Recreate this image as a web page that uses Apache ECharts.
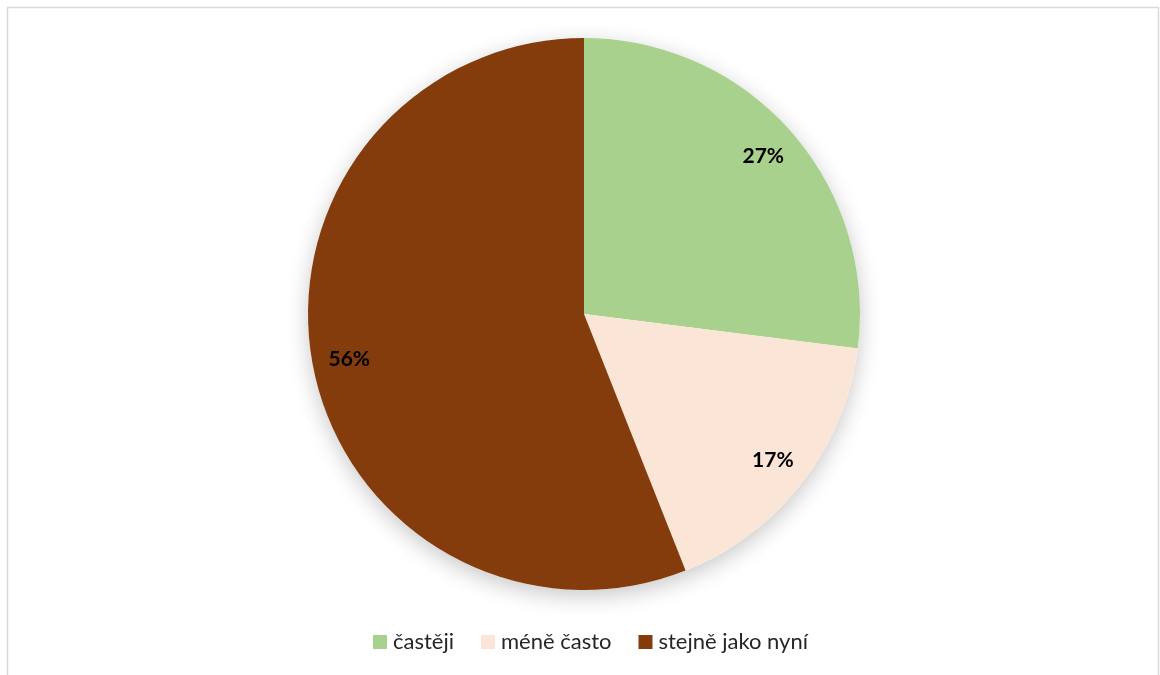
<!DOCTYPE html>
<html>
<head>
<meta charset="utf-8">
<script src="https://cdn.jsdelivr.net/npm/echarts@6/dist/echarts.min.js"></script>
<style>
html,body{margin:0;padding:0;background:#fff;}
#chart{width:1160px;height:675px;}
</style>
</head>
<body>
<div id="chart"></div>
<script>
const categories = ['častěji', 'méně často', 'stejně jako nyní'];
const values = [27, 17, 56];
const colors = ['#a9d18e', '#fbe5d6', '#843c0c'];

const chart = echarts.init(document.getElementById('chart'), null, {renderer: 'canvas'});
const data = categories.map((c, i) => ({name: c, value: values[i], itemStyle: {color: colors[i]}}));
const total = values.reduce((a, b) => a + b, 0);
const center = [584, 314];
const R = 276;

chart.setOption({
  animation: false,
  backgroundColor: '#fff',
  graphic: [{
    type: 'rect',
    shape: {x: 7.5, y: 7.5, width: 1151, height: 720},
    style: {fill: 'none', stroke: '#d9d9d9', lineWidth: 1.5},
    silent: true,
    z: 0
  }],
  legend: {
    bottom: 17,
    left: 368,
    itemWidth: 14,
    itemHeight: 14,
    itemGap: 27,
    icon: 'rect',
    textStyle: {fontFamily: 'Lato, "Open Sans", sans-serif', fontSize: 22, color: '#262626', padding: [0, 0, 0, 1]},
    data: categories
  },
  series: [
    {
      type: 'pie',
      silent: true,
      center: center,
      radius: R,
      startAngle: 90,
      label: {show: false},
      labelLine: {show: false},
      legendHoverLink: false,
      itemStyle: {color: '#fff', shadowBlur: 22, shadowOffsetY: 6, shadowColor: 'rgba(0,0,0,0.22)'},
      data: [{name: '_shadow', value: total}],
      z: 1
    },
    {
      type: 'pie',
      center: center,
      radius: R,
      startAngle: 90,
      clockwise: true,
      label: {show: false},
      labelLine: {show: false},
      itemStyle: {borderWidth: 0},
      data: data,
      z: 2
    },
    {
      type: 'pie',
      silent: true,
      center: center,
      radius: [196, R],
      startAngle: 90,
      clockwise: true,
      itemStyle: {color: 'rgba(0,0,0,0)', borderWidth: 0},
      label: {
        show: true,
        position: 'inside',
        formatter: p => p.value + '%',
        fontFamily: 'Lato, "Open Sans", sans-serif',
        fontWeight: 'bold',
        fontSize: 21,
        color: '#000'
      },
      labelLine: {show: false},
      data: categories.map((c, i) => ({name: c + ' ', value: values[i]})),
      z: 3
    }
  ]
});
</script>
</body>
</html>
